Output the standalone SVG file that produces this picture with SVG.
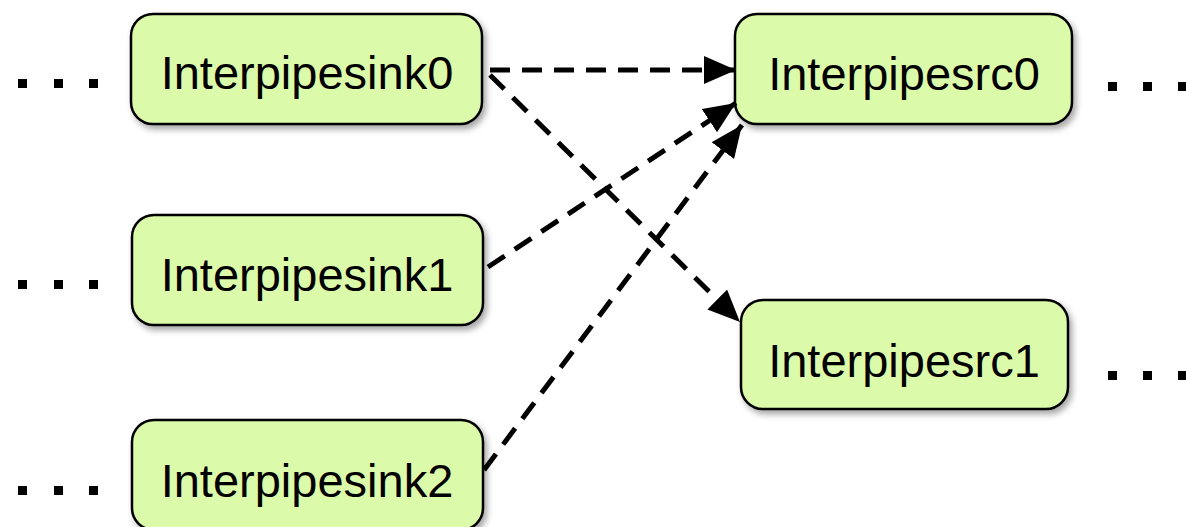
<svg xmlns="http://www.w3.org/2000/svg" width="1186" height="527" viewBox="0 0 1186 527">
<style>
.node{fill:#dcfbaa;stroke:#000;stroke-width:2.5;filter:url(#sh)}
.lbl{font-family:"Liberation Sans",Arial,sans-serif;font-size:47px;fill:#000;text-anchor:middle}
.edge{fill:none;stroke:#000;stroke-width:5;stroke-dasharray:20 12;marker-end:url(#ah)}
.dot{fill:#000}
</style>
<defs>
<filter id="sh" x="-10%" y="-20%" width="130%" height="150%">
<feDropShadow dx="3" dy="4" stdDeviation="3" flood-color="#000" flood-opacity="0.35"/>
</filter>
<marker id="ah" markerUnits="userSpaceOnUse" markerWidth="34" markerHeight="30" refX="32" refY="14" orient="auto">
<path d="M0,0 L32,14 L0,28 Z" fill="#000"/>
</marker>
</defs>
<g id="dots">
<rect class="dot" x="18" y="79" width="9" height="9"/><rect class="dot" x="54" y="79" width="9" height="9"/><rect class="dot" x="89" y="79" width="9" height="9"/>
<rect class="dot" x="18" y="280" width="9" height="9"/><rect class="dot" x="54" y="280" width="9" height="9"/><rect class="dot" x="89" y="280" width="9" height="9"/>
<rect class="dot" x="18" y="486" width="9" height="9"/><rect class="dot" x="54" y="486" width="9" height="9"/><rect class="dot" x="89" y="486" width="9" height="9"/>
<rect class="dot" x="1108" y="82" width="9" height="9"/><rect class="dot" x="1143" y="82" width="9" height="9"/><rect class="dot" x="1178" y="82" width="9" height="9"/>
<rect class="dot" x="1108" y="371" width="9" height="9"/><rect class="dot" x="1143" y="371" width="9" height="9"/><rect class="dot" x="1178" y="371" width="9" height="9"/>
</g>
<g id="sink0"><rect class="node" x="131" y="14" width="351" height="110" rx="22"/><text class="lbl" x="307" y="89">Interpipesink0</text></g>
<g id="sink1"><rect class="node" x="132" y="215" width="351" height="110" rx="22"/><text class="lbl" x="307" y="291">Interpipesink1</text></g>
<g id="sink2"><rect class="node" x="132" y="420" width="351" height="110" rx="22"/><text class="lbl" x="307" y="497">Interpipesink2</text></g>
<g id="src0"><rect class="node" x="735" y="14" width="337" height="110" rx="22"/><text class="lbl" x="904" y="90">Interpipesrc0</text></g>
<g id="src1"><rect class="node" x="741" y="300" width="327" height="109" rx="22"/><text class="lbl" x="904" y="377">Interpipesrc1</text></g>
<g id="connectors">
<path class="edge" d="M490,70 L736,70"/>
<path class="edge" d="M490,75 L740,322"/>
<path class="edge" d="M488,267 L736,103"/>
<path class="edge" d="M484,470 L742,125"/>
</g>
</svg>
